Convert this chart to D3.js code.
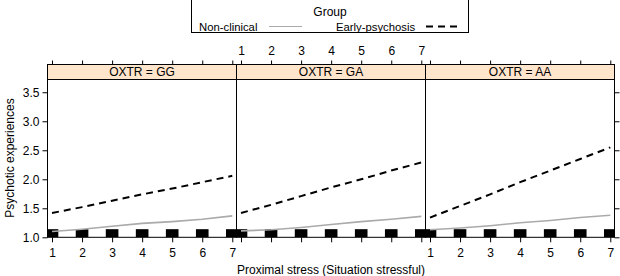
<!DOCTYPE html>
<html>
<head>
<meta charset="utf-8">
<script src="https://cdn.jsdelivr.net/npm/d3@7"></script>
<style>
    body { margin: 0; background: #fff; }
    svg { font-family: "Liberation Sans", Arial, sans-serif; }
</style>
</head>
<body>
<svg id="chart" width="620" height="276"></svg>
<script>
// Data
const stressLevels = [1, 2, 3, 4, 5, 6, 7];
const genotypes = ["GG", "GA", "AA"];
const groups = ["Non-clinical", "Early-psychosis"];

const nonClinicalGG = [1.10, 1.14, 1.19, 1.24, 1.27, 1.31, 1.37];
const nonClinicalGA = [1.11, 1.13, 1.17, 1.22, 1.27, 1.31, 1.36];
const nonClinicalAA = [1.13, 1.16, 1.20, 1.25, 1.29, 1.34, 1.38];

const earlyPsychosisGG = [1.42, 1.52, 1.63, 1.74, 1.84, 1.95, 2.06];
const earlyPsychosisGA = [1.42, 1.56, 1.71, 1.86, 2.00, 2.15, 2.29];
const earlyPsychosisAA = [1.34, 1.54, 1.74, 1.95, 2.15, 2.35, 2.55];

// rug blocks at the bottom of each panel (x position, height in y units)
const rugX = [1, 2, 3, 4, 5, 6, 7];
const rugTop = 1.14;

const yTicks = [1.0, 1.5, 2.0, 2.5, 3.0, 3.5];
const xTicks = [1, 2, 3, 4, 5, 6, 7];

const series = {
    GG: [nonClinicalGG, earlyPsychosisGG],
    GA: [nonClinicalGA, earlyPsychosisGA],
    AA: [nonClinicalAA, earlyPsychosisAA]
};

const svg = d3.select("#chart");

// Layout
const panelLeft = 47.5, panelWidth = 189;
const panelTop = 79.5, panelBottom = 237.3;
const stripTop = 64.5;

const yScale = d3.scaleLinear()
    .domain([1, 3.72])
    .range([panelBottom, panelTop]);

const lineStyles = [
    {color: "#aaaaaa", width: 1.6, dash: null},
    {color: "#000", width: 2, dash: "7,5"}
];

// Legend
const legend = svg.append("g").attr("class", "legend");
legend.append("rect")
    .attr("x", 191.5).attr("y", -1)
    .attr("width", 277).attr("height", 33.5)
    .attr("fill", "none").attr("stroke", "#000");
legend.append("text")
    .attr("x", 330).attr("y", 16)
    .attr("text-anchor", "middle")
    .attr("font-size", "12px")
    .text("Group");
legend.append("text")
    .attr("x", 199).attr("y", 31)
    .attr("font-size", "11.3px")
    .text(groups[0]);
legend.append("line")
    .attr("x1", 269).attr("x2", 302)
    .attr("y1", 26.5).attr("y2", 26.5)
    .attr("stroke", lineStyles[0].color).attr("stroke-width", 1.2);
legend.append("text")
    .attr("x", 336).attr("y", 31)
    .attr("font-size", "11.3px")
    .text(groups[1]);
legend.append("line")
    .attr("x1", 426).attr("x2", 460)
    .attr("y1", 26.5).attr("y2", 26.5)
    .attr("stroke", "#000").attr("stroke-width", 2)
    .attr("stroke-dasharray", lineStyles[1].dash);

svg.append("defs").selectAll("clipPath")
    .data(genotypes)
    .enter()
    .append("clipPath")
    .attr("id", d => "clip-" + d)
    .append("rect")
    .attr("x", (d, i) => panelLeft + i * panelWidth)
    .attr("y", panelTop)
    .attr("width", panelWidth)
    .attr("height", panelBottom - panelTop);

genotypes.forEach((g, i) => {
    const x0 = panelLeft + i * panelWidth;
    const xScale = d3.scaleLinear()
        .domain([0.85, 7.14])
        .range([x0, x0 + panelWidth]);

    const panel = svg.append("g").attr("class", "panel");
    const inner = panel.append("g").attr("clip-path", `url(#clip-${g})`);

    // black rug blocks
    inner.selectAll("rect.rug")
        .data(rugX)
        .enter()
        .append("rect")
        .attr("class", "rug")
        .attr("x", d => xScale(d - 0.21))
        .attr("width", xScale(0.42) - xScale(0))
        .attr("y", yScale(rugTop))
        .attr("height", yScale(1) - yScale(rugTop))
        .attr("fill", "#000");

    // fitted lines
    const line = d3.line()
        .x((d, j) => xScale(stressLevels[j]))
        .y(d => yScale(d));

    series[g].forEach((vals, k) => {
        inner.append("path")
            .datum(vals)
            .attr("d", line)
            .attr("fill", "none")
            .attr("stroke", lineStyles[k].color)
            .attr("stroke-width", lineStyles[k].width)
            .attr("stroke-dasharray", lineStyles[k].dash);
    });

    // panel border
    panel.append("rect")
        .attr("x", x0).attr("y", panelTop)
        .attr("width", panelWidth).attr("height", panelBottom - panelTop)
        .attr("fill", "none").attr("stroke", "#000");

    // strip
    panel.append("rect")
        .attr("x", x0).attr("y", stripTop)
        .attr("width", panelWidth).attr("height", panelTop - stripTop)
        .attr("fill", "#ffe5cc").attr("stroke", "#000");
    panel.append("text")
        .attr("x", x0 + panelWidth / 2)
        .attr("y", stripTop + 11.5)
        .attr("text-anchor", "middle")
        .attr("font-size", "12px")
        .text("OXTR = " + g);

    // bottom ticks (labels on outer panels)
    const bottomAxis = d3.axisBottom(xScale)
        .tickValues(xTicks)
        .tickSize(5)
        .tickSizeOuter(0)
        .tickFormat(i === 1 ? "" : d3.format("d"));
    const ba = panel.append("g")
        .attr("transform", `translate(0, ${panelBottom})`)
        .call(bottomAxis);

    // top ticks (labels on middle panel)
    const topAxis = d3.axisTop(xScale)
        .tickValues(xTicks)
        .tickSize(4)
        .tickSizeOuter(0)
        .tickFormat(i === 1 ? d3.format("d") : "");
    const ta = panel.append("g")
        .attr("transform", `translate(0, ${stripTop})`)
        .call(topAxis);

    [ba, ta].forEach(a => {
        a.select(".domain").remove();
        a.selectAll("text").attr("font-size", "12px").attr("fill", "#000")
            .attr("font-family", "Liberation Sans, Arial, sans-serif");
    });
    ba.selectAll("text").attr("dy", "0.95em");
    ta.selectAll("text").attr("dy", "-0.2em");
});

// y axes
const leftAxis = svg.append("g")
    .attr("transform", `translate(${panelLeft}, 0)`)
    .call(d3.axisLeft(yScale).tickValues(yTicks).tickSize(5).tickSizeOuter(0)
        .tickFormat(d3.format(".1f")));
const rightAxis = svg.append("g")
    .attr("transform", `translate(${panelLeft + 3 * panelWidth}, 0)`)
    .call(d3.axisRight(yScale).tickValues(yTicks).tickSize(5).tickSizeOuter(0)
        .tickFormat(""));
[leftAxis, rightAxis].forEach(a => a.select(".domain").remove());
leftAxis.selectAll("text")
    .attr("font-size", "12px").attr("fill", "#000")
    .attr("font-family", "Liberation Sans, Arial, sans-serif");

// axis titles
svg.append("text")
    .attr("text-anchor", "middle")
    .attr("x", 331)
    .attr("y", 274)
    .attr("font-size", "12px")
    .text("Proximal stress (Situation stressful)");

svg.append("text")
    .attr("text-anchor", "middle")
    .attr("transform", "rotate(-90)")
    .attr("x", -158)
    .attr("y", 14)
    .attr("font-size", "12px")
    .text("Psychotic experiences");
</script>
</body>
</html>
